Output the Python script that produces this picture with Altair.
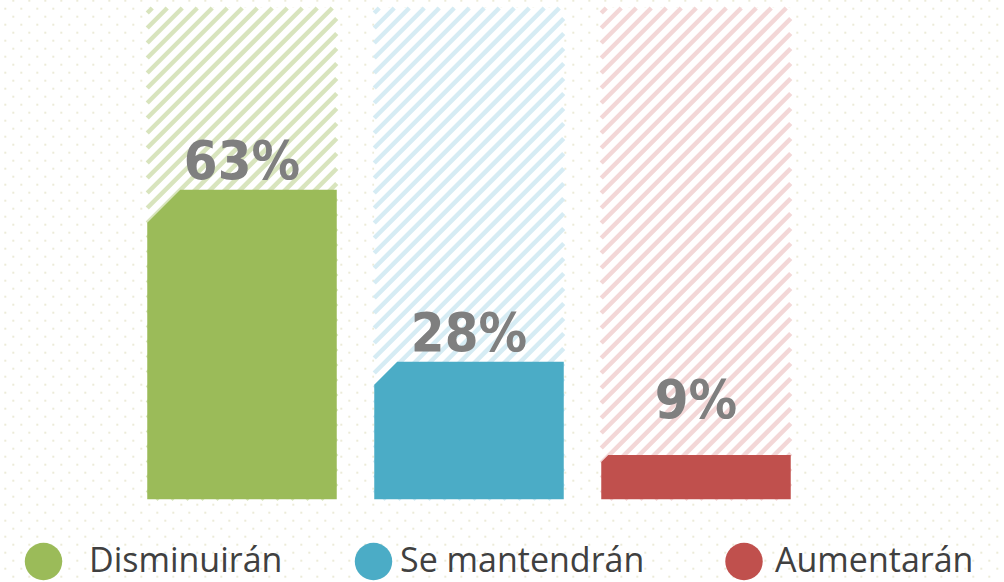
import altair as alt
import numpy as np
import pandas as pd

# ---- data ----
categories = ["Disminuirán", "Se mantendrán", "Aumentarán"]
values = [63, 28, 9]
labels = ["63%", "28%", "9%"]
colors = ["#9bbb59", "#4bacc6", "#c0504d"]
hatch_colors = ["#d8e4bd", "#d6ecf4", "#f3d7d7"]

# ---- layout constants ----
W, H = 1004, 582
BASE_PX = 499.3      # pixel row of 0 %
TOP_PX = 8.0         # pixel row of 100 %
PX_PER_UNIT = (BASE_PX - TOP_PX) / 100.0
Y_MAX = 100 + TOP_PX / PX_PER_UNIT
Y_MIN = -(H - BASE_PX) / PX_PER_UNIT

CENTER0, STEP, BAR_W = 242.0, 227.0, 189.5
CHAMFER_PX = [33, 23, 7]
HATCH_PERIOD = 15.0
LABEL_GAP_PX = 11
LABEL_MAX_PX = 418

LEG_CIRCLE_X = [43.5, 373.5, 744.0]
LEG_TEXT_X = [89.0, 400.0, 775.0]
LEG_CIRCLE_Y_PX = 561.5
LEG_TEXT_BOTTOM_PX = 579.0


def yu(px):
    return (BASE_PX - px) / PX_PER_UNIT


def bar_left(i):
    return CENTER0 + i * STEP - BAR_W / 2


xs = alt.Scale(domain=[0, W], nice=False, zero=False)
ys = alt.Scale(domain=[Y_MIN, Y_MAX], nice=False, zero=False)

# ---- background dots ----
dot_rows = []
for r, yy in enumerate(np.arange(0.7, H, 8.0)):
    start = 13.3 if r % 2 == 0 else 5.3
    for xx in np.arange(start, W, 16.0):
        dot_rows.append({"x": xx, "y": yu(yy)})
dots = alt.Chart(pd.DataFrame(dot_rows)).mark_square(
    size=4, color="#ecebd8", opacity=1
).encode(x=alt.X("x:Q", scale=xs, axis=None), y=alt.Y("y:Q", scale=ys, axis=None))

# ---- white backing of the 100% frames ----
bg_df = pd.DataFrame({
    "cat": categories,
    "x": [bar_left(i) for i in range(3)],
    "x2": [bar_left(i) + BAR_W for i in range(3)],
    "top": [100] * 3,
    "bottom": [0] * 3,
})
bg = alt.Chart(bg_df).mark_rect(color="white").encode(
    x=alt.X("x:Q", scale=xs, axis=None), x2="x2:Q",
    y=alt.Y("top:Q", scale=ys, axis=None), y2="bottom:Q",
)

# ---- hatch stripes ----
hatch_rows = []
for i, cat in enumerate(categories):
    x0 = bar_left(i)
    x1 = x0 + BAR_W
    for c in np.arange(x0 + TOP_PX - 40, x1 + BASE_PX + HATCH_PERIOD, HATCH_PERIOD):
        xa = max(x0, c - BASE_PX)
        xb = min(x1, c - TOP_PX)
        if xb - xa > 1.0:
            hatch_rows.append({"cat": cat, "x": xa, "x2": xb,
                               "y": yu(c - xa), "y2": yu(c - xb),
                               "col": hatch_colors[i]})
hatch = alt.Chart(pd.DataFrame(hatch_rows)).mark_rule(strokeWidth=4.5).encode(
    x=alt.X("x:Q", scale=xs, axis=None), x2="x2:Q",
    y=alt.Y("y:Q", scale=ys, axis=None), y2="y2:Q",
    color=alt.Color("col:N", scale=None),
)

# ---- chamfered bars ----
area_rows = []
for i, (cat, v) in enumerate(zip(categories, values)):
    x0 = bar_left(i)
    x1 = x0 + BAR_W
    c = CHAMFER_PX[i]
    pts = [(x0, v - c / PX_PER_UNIT), (x0 + c, v), (x1, v)]
    for px, py in pts:
        area_rows.append({"cat": cat, "x": px, "y": py, "y2": 0.0, "col": colors[i]})
bars = alt.Chart(pd.DataFrame(area_rows)).mark_area(
    interpolate="linear", opacity=1, orient="vertical"
).encode(
    x=alt.X("x:Q", scale=xs, axis=None),
    y=alt.Y("y:Q", scale=ys, axis=None, stack=None),
    y2="y2:Q",
    detail="cat:N",
    color=alt.Color("col:N", scale=None),
)

# ---- value labels ----
lab_df = pd.DataFrame({
    "cat": categories,
    "label": labels,
    "x": [CENTER0 + i * STEP for i in range(3)],
    "y": [yu(min(BASE_PX - v * PX_PER_UNIT - LABEL_GAP_PX, LABEL_MAX_PX)) for v in values],
})
value_text = alt.Chart(lab_df).mark_text(
    font="DejaVu Sans Condensed, sans-serif",
    fontSize=54, fontWeight="bold", color="#7f7f7f",
    align="center", baseline="alphabetic",
).encode(
    x=alt.X("x:Q", scale=xs, axis=None),
    y=alt.Y("y:Q", scale=ys, axis=None),
    text="label:N",
)

# ---- legend ----
leg_df = pd.DataFrame({
    "cat": categories,
    "cx": LEG_CIRCLE_X,
    "cy": [yu(LEG_CIRCLE_Y_PX)] * 3,
    "tx": LEG_TEXT_X,
    "ty": [yu(LEG_TEXT_BOTTOM_PX)] * 3,
    "col": colors,
})
leg_dots = alt.Chart(leg_df).mark_circle(size=1400, opacity=1).encode(
    x=alt.X("cx:Q", scale=xs, axis=None),
    y=alt.Y("cy:Q", scale=ys, axis=None),
    color=alt.Color("col:N", scale=None),
)
leg_text = alt.Chart(leg_df).mark_text(
    font="Open Sans", fontSize=34, color="#404040",
    align="left", baseline="bottom",
).encode(
    x=alt.X("tx:Q", scale=xs, axis=None),
    y=alt.Y("ty:Q", scale=ys, axis=None),
    text="cat:N",
)

chart = alt.layer(dots, bg, hatch, bars, value_text, leg_dots, leg_text).properties(
    width=W, height=H, padding=0, autosize=alt.AutoSizeParams(type="none"),
    background="white",
).configure_view(stroke=None)

chart.save("out.html", embed_options={"renderer": "svg", "actions": False})
